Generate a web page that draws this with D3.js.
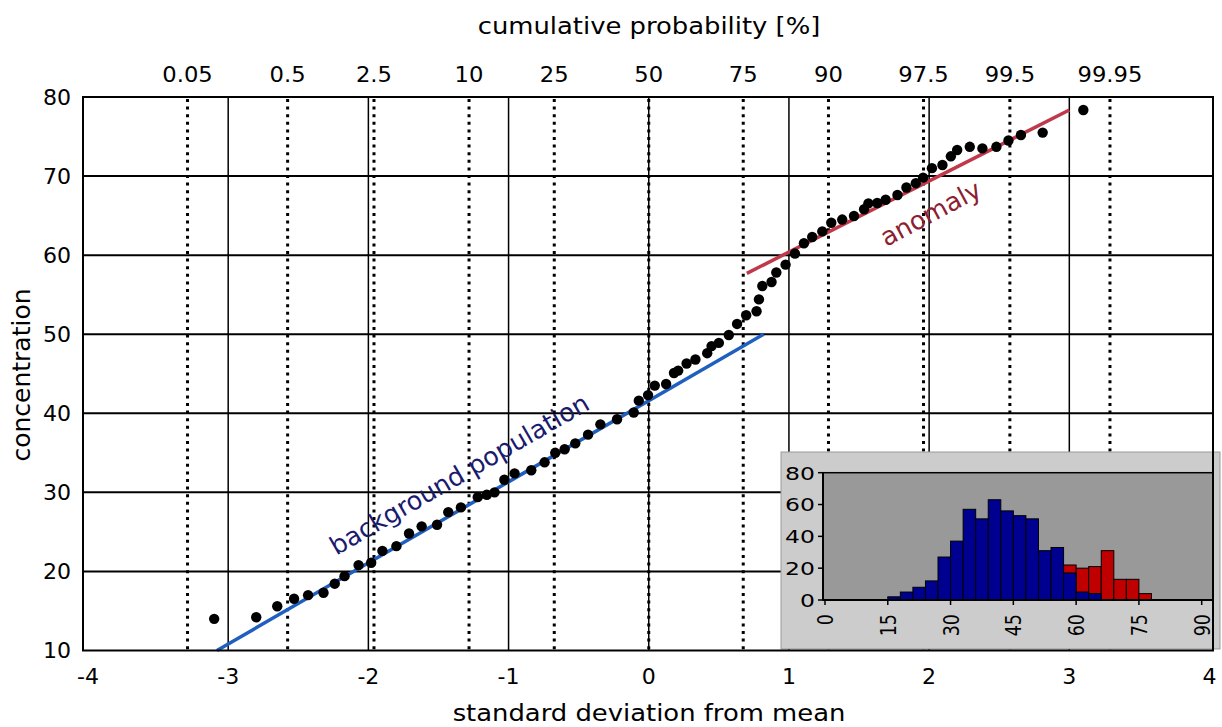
<!DOCTYPE html>
<html>
<head>
<meta charset="utf-8">
<script src="https://cdn.jsdelivr.net/npm/d3@7"></script>
<style>
  html, body { margin: 0; padding: 0; background: #fff; }
  svg { display: block; font-family: "DejaVu Sans", Verdana, sans-serif; }
</style>
</head>
<body>
<svg id="chart" width="1222" height="727"></svg>
<script>
// ---------- data ----------
const zScores = [-3.10,-2.80,-2.65,-2.53,-2.43,-2.32,-2.24,-2.17,-2.07,-1.98,-1.90,-1.80,
  -1.71,-1.62,-1.51,-1.43,-1.34,-1.22,-1.155,-1.10,-1.03,-0.957,-0.838,-0.743,-0.667,-0.60,
  -0.524,-0.433,-0.345,-0.226,-0.107,-0.071,-0.005,0.043,0.124,0.18,0.21,0.27,0.333,0.417,
  0.448,0.50,0.571,0.63,0.695,0.769,0.786,0.81,0.876,0.91,0.976,1.043,1.107,1.166,1.238,
  1.302,1.38,1.464,1.536,1.567,1.63,1.69,1.774,1.838,1.905,1.957,2.02,2.095,2.155,2.20,
  2.29,2.38,2.48,2.566,2.655,2.81,3.10];
const concentrations = [14.0,14.2,15.6,16.55,17.0,17.3,18.45,19.4,20.8,21.1,22.6,23.2,
  24.8,25.7,25.9,27.5,28.1,29.4,29.7,30.0,31.6,32.4,32.8,33.8,35.0,35.45,
  36.2,37.3,38.6,39.25,40.1,41.6,42.3,43.5,43.7,45.1,45.4,46.3,46.8,47.6,
  48.5,48.9,49.9,51.3,52.4,52.9,54.4,56.1,56.6,57.8,58.8,60.2,61.5,62.3,63.0,
  64.1,64.5,64.95,65.8,66.55,66.6,67.0,67.6,68.55,69.1,69.8,71.0,71.4,72.5,73.3,
  73.7,73.5,73.7,74.5,75.2,75.5,78.35];

const backgroundLine = [[-3.08, 10], [0.82, 50]];
const anomalyLine = [[0.70, 57.7], [3.0, 78.35]];

const xTicks = [-4,-3,-2,-1,0,1,2,3,4];
const yTicks = [10,20,30,40,50,60,70,80];
const probLabels = ["0.05","0.5","2.5","10","25","50","75","90","97.5","99.5","99.95"];
const probZ = [-3.29,-2.576,-1.96,-1.282,-0.674,0,0.674,1.282,1.96,2.576,3.29];

// inset histogram (bins of width 3)
const blueBinStarts = [15,18,21,24,27,30,33,36,39,42,45,48,51,54,57,60,63];
const blueCounts    = [2,5,8,12,27,37,57,51,63,56,53,51,31,33,17,5,4];
const redBinStarts  = [57,60,63,66,69,72,75];
const redCounts     = [22,20,21,31,13,13,4];
const binWidth = 3;
const histXTicks = [0,15,30,45,60,75,90];
const histYTicks = [0,20,40,60,80];

// ---------- drawing ----------
const svg = d3.select("#chart");
const x = d3.scaleLinear().domain([-4, 4]).range([88, 1209.5]);
const y = d3.scaleLinear().domain([10, 80]).range([650.5, 97]);
const plotL = 83, plotR = 1213;

// helper: text with horizontal stretch
function label(g, px, py, txt, size, sx, anchor, extra) {
  return g.append("text")
    .attr("transform", `translate(${px},${py}) ${extra || ""} scale(${sx},1)`)
    .attr("text-anchor", anchor).attr("font-size", size).text(txt);
}

// vertical solid grid
svg.append("g").selectAll("line").data(xTicks.filter(d => d > -4 && d < 4)).join("line")
  .attr("x1", d => x(d)).attr("x2", d => x(d))
  .attr("y1", y(80)).attr("y2", y(10))
  .attr("stroke", "#000").attr("stroke-width", 1.5);

// horizontal grid
svg.append("g").selectAll("line").data(yTicks.filter(d => d > 10 && d < 80)).join("line")
  .attr("x1", plotL).attr("x2", plotR)
  .attr("y1", d => y(d)).attr("y2", d => y(d))
  .attr("stroke", "#000").attr("stroke-width", 2);

// dotted probability lines
svg.append("g").selectAll("line").data(probZ).join("line")
  .attr("x1", d => x(d)).attr("x2", d => x(d))
  .attr("y1", y(80) + 2).attr("y2", y(10))
  .attr("stroke", "#000").attr("stroke-width", 3)
  .attr("stroke-dasharray", "3,4.6");

// fitted lines
const lineGen = d3.line().x(d => x(d[0])).y(d => y(d[1]));
svg.append("path").attr("d", lineGen(backgroundLine))
  .attr("stroke", "#1f5fbf").attr("stroke-width", 3.5).attr("fill", "none");
svg.append("path").attr("d", lineGen(anomalyLine))
  .attr("stroke", "#c0394a").attr("stroke-width", 3.5).attr("fill", "none");

// points
svg.append("g").selectAll("circle").data(zScores.map((z, i) => [z, concentrations[i]])).join("circle")
  .attr("cx", d => x(d[0])).attr("cy", d => y(d[1])).attr("r", 5.2).attr("fill", "#000");

// annotations
svg.append("text")
  .attr("transform", `translate(${x(-1.32)},${y(31.3)}) rotate(-30)`)
  .attr("text-anchor", "middle").attr("font-size", 25.5).attr("fill", "#1a1a6e")
  .text("background population");
svg.append("text")
  .attr("transform", `translate(${x(2.04)},${y(64.3)}) rotate(-28)`)
  .attr("text-anchor", "middle").attr("font-size", 25.5).attr("fill", "#8b2030")
  .text("anomaly");

// axes labels
const gl = svg.append("g");
xTicks.forEach(d => label(gl, x(d), 684, d, 21, 1.05, "middle"));
yTicks.forEach(d => label(gl, 71, y(d) + 7.5, d, 21, 1.05, "end"));
probZ.forEach((d, i) => label(gl, x(d), 82, probLabels[i], 21, 1.08, "middle"));

label(gl, 649, 721, "standard deviation from mean", 23.5, 1.1, "middle");
label(gl, 649, 34, "cumulative probability [%]", 23.5, 1.1, "middle");
gl.append("text").attr("transform", "translate(30,375) rotate(-90)").attr("text-anchor", "middle")
  .attr("font-size", 25).text("concentration");

// ---------- inset histogram ----------
const inset = svg.append("g");
inset.append("rect").attr("x", 781).attr("y", 452).attr("width", 439).attr("height", 197)
  .attr("fill", "#cccccc").attr("stroke", "#999").attr("stroke-width", 1);
const hx = d3.scaleLinear().domain([0, 90]).range([825, 1201.7]);
const hy = d3.scaleLinear().domain([0, 80]).range([600, 472.7]);
inset.append("rect").attr("x", 823).attr("y", hy(80)).attr("width", 1213 - 823).attr("height", hy(0) - hy(80))
  .attr("fill", "#999999").attr("stroke", "#000").attr("stroke-width", 1.5);
inset.append("g").selectAll("rect").data(redBinStarts.map((s, i) => [s, redCounts[i]])).join("rect")
  .attr("x", d => hx(d[0])).attr("width", d => hx(d[0] + binWidth) - hx(d[0]))
  .attr("y", d => hy(d[1])).attr("height", d => hy(0) - hy(d[1]))
  .attr("fill", "#c00000").attr("stroke", "#000").attr("stroke-width", 1);
inset.append("g").selectAll("rect").data(blueBinStarts.map((s, i) => [s, blueCounts[i]])).join("rect")
  .attr("x", d => hx(d[0])).attr("width", d => hx(d[0] + binWidth) - hx(d[0]))
  .attr("y", d => hy(d[1])).attr("height", d => hy(0) - hy(d[1]))
  .attr("fill", "#000090").attr("stroke", "#000").attr("stroke-width", 1);
inset.append("line").attr("x1", 823).attr("x2", 1213).attr("y1", hy(0)).attr("y2", hy(0))
  .attr("stroke", "#000").attr("stroke-width", 2);
inset.append("line").attr("x1", 823).attr("x2", 823).attr("y1", hy(0)).attr("y2", hy(80))
  .attr("stroke", "#000").attr("stroke-width", 2);
inset.append("g").selectAll("line").data(histYTicks).join("line")
  .attr("x1", 818).attr("x2", 823).attr("y1", d => hy(d)).attr("y2", d => hy(d))
  .attr("stroke", "#000").attr("stroke-width", 1.5);
inset.append("g").selectAll("line").data(histXTicks).join("line")
  .attr("x1", d => hx(d)).attr("x2", d => hx(d)).attr("y1", hy(0)).attr("y2", hy(0) + 5)
  .attr("stroke", "#000").attr("stroke-width", 1.5);
histYTicks.forEach(d => label(inset, 815, hy(d) + 6.8, d, 18.5, 1.27, "end"));
histXTicks.forEach(d => label(inset, hx(d) + 8, 614, d, 17.5, 1, "end", "scale(1.25,1) rotate(-90)"));

// plot border on top
svg.append("rect").attr("x", plotL).attr("y", y(80))
  .attr("width", plotR - plotL).attr("height", y(10) - y(80))
  .attr("fill", "none").attr("stroke", "#000").attr("stroke-width", 2);
</script>
</body>
</html>
